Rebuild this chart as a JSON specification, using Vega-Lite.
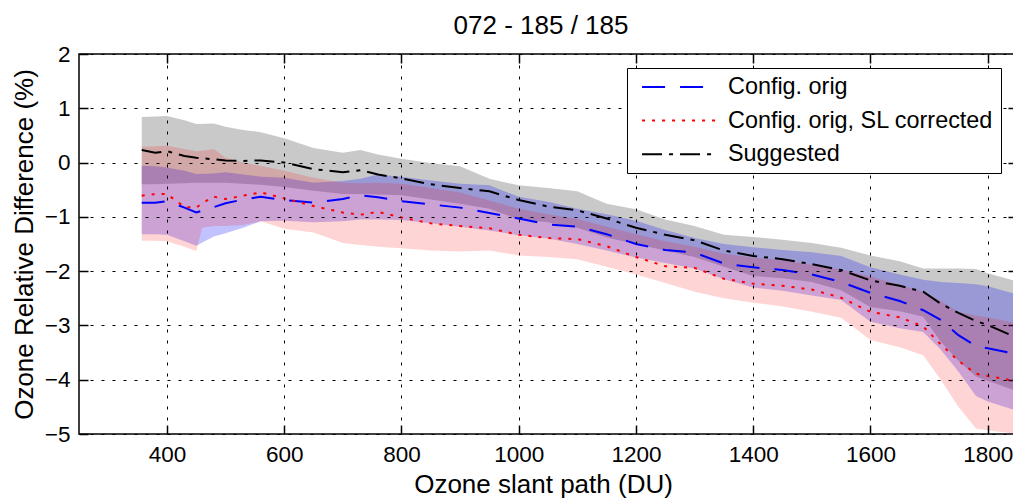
{
  "$schema": "https://vega.github.io/schema/vega-lite/v6.json",
  "autosize": "none",
  "padding": {"left": 79, "top": 54, "right": 0, "bottom": 69},
  "width": 938,
  "height": 380,
  "config": {
    "font": "Liberation Sans",
    "view": {"stroke": "black", "strokeWidth": 1.5},
    "axis": {"labelColor": "black", "titleColor": "black", "titleFontWeight": "normal", "labelFont": "Liberation Sans", "titleFont": "Liberation Sans"}
  },
  "title": {"text": "072 - 185 / 185", "fontSize": 26, "fontWeight": "normal", "color": "black", "anchor": "middle", "frame": "group", "baseline": "alphabetic", "offset": 4, "dy": 21, "dx": -7},
  "data": {"values": [
    {"s":"Suggested","x":357,"m":0.23,"lo":-0.40,"hi":0.84},
    {"s":"Suggested","x":380,"m":0.18,"lo":-0.40,"hi":0.85},
    {"s":"Suggested","x":400,"m":0.21,"lo":-0.39,"hi":0.86},
    {"s":"Suggested","x":430,"m":0.12,"lo":-0.38,"hi":0.78},
    {"s":"Suggested","x":450,"m":0.09,"lo":-0.37,"hi":0.71},
    {"s":"Suggested","x":480,"m":0.06,"lo":-0.37,"hi":0.72},
    {"s":"Suggested","x":500,"m":0.04,"lo":-0.37,"hi":0.66},
    {"s":"Suggested","x":530,"m":0.03,"lo":-0.39,"hi":0.60},
    {"s":"Suggested","x":560,"m":0.04,"lo":-0.41,"hi":0.56},
    {"s":"Suggested","x":600,"m":0.00,"lo":-0.45,"hi":0.45},
    {"s":"Suggested","x":650,"m":-0.12,"lo":-0.52,"hi":0.27},
    {"s":"Suggested","x":700,"m":-0.18,"lo":-0.58,"hi":0.18},
    {"s":"Suggested","x":730,"m":-0.14,"lo":-0.58,"hi":0.23},
    {"s":"Suggested","x":760,"m":-0.22,"lo":-0.59,"hi":0.15},
    {"s":"Suggested","x":800,"m":-0.29,"lo":-0.60,"hi":0.07},
    {"s":"Suggested","x":850,"m":-0.40,"lo":-0.68,"hi":-0.01},
    {"s":"Suggested","x":900,"m":-0.47,"lo":-0.76,"hi":-0.07},
    {"s":"Suggested","x":950,"m":-0.53,"lo":-0.85,"hi":-0.30},
    {"s":"Suggested","x":1000,"m":-0.69,"lo":-1.05,"hi":-0.42},
    {"s":"Suggested","x":1050,"m":-0.81,"lo":-1.10,"hi":-0.47},
    {"s":"Suggested","x":1100,"m":-0.88,"lo":-1.20,"hi":-0.53},
    {"s":"Suggested","x":1150,"m":-1.03,"lo":-1.38,"hi":-0.76},
    {"s":"Suggested","x":1200,"m":-1.20,"lo":-1.50,"hi":-0.86},
    {"s":"Suggested","x":1250,"m":-1.33,"lo":-1.62,"hi":-1.05},
    {"s":"Suggested","x":1300,"m":-1.43,"lo":-1.74,"hi":-1.17},
    {"s":"Suggested","x":1350,"m":-1.62,"lo":-1.92,"hi":-1.33},
    {"s":"Suggested","x":1400,"m":-1.72,"lo":-2.09,"hi":-1.37},
    {"s":"Suggested","x":1450,"m":-1.78,"lo":-2.13,"hi":-1.42},
    {"s":"Suggested","x":1500,"m":-1.87,"lo":-2.20,"hi":-1.48},
    {"s":"Suggested","x":1550,"m":-1.98,"lo":-2.35,"hi":-1.57},
    {"s":"Suggested","x":1600,"m":-2.17,"lo":-2.66,"hi":-1.71},
    {"s":"Suggested","x":1650,"m":-2.27,"lo":-2.74,"hi":-1.82},
    {"s":"Suggested","x":1690,"m":-2.38,"lo":-2.84,"hi":-1.95},
    {"s":"Suggested","x":1720,"m":-2.60,"lo":-3.30,"hi":-1.95},
    {"s":"Suggested","x":1750,"m":-2.77,"lo":-3.65,"hi":-1.95},
    {"s":"Suggested","x":1780,"m":-2.92,"lo":-3.94,"hi":-1.96},
    {"s":"Suggested","x":1800,"m":-2.99,"lo":-4.02,"hi":-2.04},
    {"s":"Suggested","x":1850,"m":-3.23,"lo":-4.21,"hi":-2.19},
    {"s":"Config. orig","x":357,"m":-0.74,"lo":-1.32,"hi":-0.06},
    {"s":"Config. orig","x":380,"m":-0.74,"lo":-1.32,"hi":-0.07},
    {"s":"Config. orig","x":400,"m":-0.71,"lo":-1.33,"hi":-0.09},
    {"s":"Config. orig","x":430,"m":-0.83,"lo":-1.45,"hi":-0.15},
    {"s":"Config. orig","x":450,"m":-0.92,"lo":-1.53,"hi":-0.21},
    {"s":"Config. orig","x":480,"m":-0.82,"lo":-1.36,"hi":-0.20},
    {"s":"Config. orig","x":500,"m":-0.75,"lo":-1.30,"hi":-0.18},
    {"s":"Config. orig","x":530,"m":-0.68,"lo":-1.20,"hi":-0.22},
    {"s":"Config. orig","x":560,"m":-0.63,"lo":-1.08,"hi":-0.26},
    {"s":"Config. orig","x":600,"m":-0.69,"lo":-1.07,"hi":-0.28},
    {"s":"Config. orig","x":650,"m":-0.74,"lo":-1.10,"hi":-0.37},
    {"s":"Config. orig","x":700,"m":-0.67,"lo":-1.08,"hi":-0.34},
    {"s":"Config. orig","x":730,"m":-0.60,"lo":-1.05,"hi":-0.30},
    {"s":"Config. orig","x":760,"m":-0.64,"lo":-1.05,"hi":-0.22},
    {"s":"Config. orig","x":800,"m":-0.71,"lo":-1.06,"hi":-0.26},
    {"s":"Config. orig","x":850,"m":-0.77,"lo":-1.12,"hi":-0.33},
    {"s":"Config. orig","x":900,"m":-0.83,"lo":-1.18,"hi":-0.39},
    {"s":"Config. orig","x":950,"m":-0.93,"lo":-1.25,"hi":-0.42},
    {"s":"Config. orig","x":1000,"m":-1.03,"lo":-1.34,"hi":-0.63},
    {"s":"Config. orig","x":1050,"m":-1.14,"lo":-1.40,"hi":-0.72},
    {"s":"Config. orig","x":1100,"m":-1.18,"lo":-1.50,"hi":-0.85},
    {"s":"Config. orig","x":1150,"m":-1.32,"lo":-1.62,"hi":-0.95},
    {"s":"Config. orig","x":1200,"m":-1.50,"lo":-1.75,"hi":-1.07},
    {"s":"Config. orig","x":1250,"m":-1.61,"lo":-1.85,"hi":-1.24},
    {"s":"Config. orig","x":1300,"m":-1.66,"lo":-1.95,"hi":-1.39},
    {"s":"Config. orig","x":1350,"m":-1.86,"lo":-2.15,"hi":-1.50},
    {"s":"Config. orig","x":1400,"m":-1.93,"lo":-2.30,"hi":-1.56},
    {"s":"Config. orig","x":1450,"m":-1.98,"lo":-2.36,"hi":-1.61},
    {"s":"Config. orig","x":1500,"m":-2.06,"lo":-2.45,"hi":-1.65},
    {"s":"Config. orig","x":1550,"m":-2.20,"lo":-2.53,"hi":-1.72},
    {"s":"Config. orig","x":1600,"m":-2.40,"lo":-2.93,"hi":-1.93},
    {"s":"Config. orig","x":1650,"m":-2.55,"lo":-3.05,"hi":-2.06},
    {"s":"Config. orig","x":1690,"m":-2.72,"lo":-3.12,"hi":-2.16},
    {"s":"Config. orig","x":1720,"m":-2.90,"lo":-3.45,"hi":-2.20},
    {"s":"Config. orig","x":1750,"m":-3.18,"lo":-3.85,"hi":-2.22},
    {"s":"Config. orig","x":1780,"m":-3.38,"lo":-4.30,"hi":-2.24},
    {"s":"Config. orig","x":1800,"m":-3.42,"lo":-4.40,"hi":-2.28},
    {"s":"Config. orig","x":1850,"m":-3.53,"lo":-4.57,"hi":-2.43},
    {"s":"Config. orig, SL corrected","x":357,"m":-0.61,"lo":-1.44,"hi":0.29},
    {"s":"Config. orig, SL corrected","x":380,"m":-0.58,"lo":-1.44,"hi":0.30},
    {"s":"Config. orig, SL corrected","x":400,"m":-0.58,"lo":-1.45,"hi":0.31},
    {"s":"Config. orig, SL corrected","x":430,"m":-0.82,"lo":-1.55,"hi":0.25},
    {"s":"Config. orig, SL corrected","x":450,"m":-0.83,"lo":-1.63,"hi":0.21},
    {"s":"Config. orig, SL corrected","x":460,"m":-0.75,"lo":-1.20,"hi":0.22},
    {"s":"Config. orig, SL corrected","x":480,"m":-0.63,"lo":-1.17,"hi":0.25},
    {"s":"Config. orig, SL corrected","x":500,"m":-0.67,"lo":-1.17,"hi":0.09},
    {"s":"Config. orig, SL corrected","x":530,"m":-0.61,"lo":-1.15,"hi":0.00},
    {"s":"Config. orig, SL corrected","x":560,"m":-0.55,"lo":-1.08,"hi":-0.06},
    {"s":"Config. orig, SL corrected","x":600,"m":-0.66,"lo":-1.22,"hi":-0.15},
    {"s":"Config. orig, SL corrected","x":650,"m":-0.80,"lo":-1.29,"hi":-0.28},
    {"s":"Config. orig, SL corrected","x":700,"m":-0.92,"lo":-1.48,"hi":-0.37},
    {"s":"Config. orig, SL corrected","x":730,"m":-0.96,"lo":-1.52,"hi":-0.38},
    {"s":"Config. orig, SL corrected","x":760,"m":-0.91,"lo":-1.55,"hi":-0.37},
    {"s":"Config. orig, SL corrected","x":800,"m":-1.01,"lo":-1.58,"hi":-0.39},
    {"s":"Config. orig, SL corrected","x":850,"m":-1.12,"lo":-1.62,"hi":-0.47},
    {"s":"Config. orig, SL corrected","x":900,"m":-1.17,"lo":-1.64,"hi":-0.55},
    {"s":"Config. orig, SL corrected","x":950,"m":-1.21,"lo":-1.62,"hi":-0.70},
    {"s":"Config. orig, SL corrected","x":1000,"m":-1.33,"lo":-1.71,"hi":-0.85},
    {"s":"Config. orig, SL corrected","x":1050,"m":-1.39,"lo":-1.74,"hi":-0.95},
    {"s":"Config. orig, SL corrected","x":1100,"m":-1.41,"lo":-1.78,"hi":-1.04},
    {"s":"Config. orig, SL corrected","x":1150,"m":-1.54,"lo":-1.92,"hi":-1.18},
    {"s":"Config. orig, SL corrected","x":1200,"m":-1.74,"lo":-2.06,"hi":-1.32},
    {"s":"Config. orig, SL corrected","x":1250,"m":-1.91,"lo":-2.22,"hi":-1.45},
    {"s":"Config. orig, SL corrected","x":1300,"m":-1.94,"lo":-2.38,"hi":-1.55},
    {"s":"Config. orig, SL corrected","x":1350,"m":-2.14,"lo":-2.50,"hi":-1.68},
    {"s":"Config. orig, SL corrected","x":1400,"m":-2.23,"lo":-2.58,"hi":-1.75},
    {"s":"Config. orig, SL corrected","x":1450,"m":-2.27,"lo":-2.65,"hi":-1.80},
    {"s":"Config. orig, SL corrected","x":1500,"m":-2.34,"lo":-2.75,"hi":-1.88},
    {"s":"Config. orig, SL corrected","x":1550,"m":-2.49,"lo":-2.86,"hi":-1.97},
    {"s":"Config. orig, SL corrected","x":1600,"m":-2.75,"lo":-3.27,"hi":-2.10},
    {"s":"Config. orig, SL corrected","x":1650,"m":-2.85,"lo":-3.40,"hi":-2.25},
    {"s":"Config. orig, SL corrected","x":1690,"m":-3.02,"lo":-3.55,"hi":-2.38},
    {"s":"Config. orig, SL corrected","x":1720,"m":-3.35,"lo":-4.00,"hi":-2.55},
    {"s":"Config. orig, SL corrected","x":1750,"m":-3.65,"lo":-4.50,"hi":-2.75},
    {"s":"Config. orig, SL corrected","x":1780,"m":-3.89,"lo":-4.90,"hi":-2.82},
    {"s":"Config. orig, SL corrected","x":1800,"m":-3.93,"lo":-4.93,"hi":-2.85},
    {"s":"Config. orig, SL corrected","x":1850,"m":-4.03,"lo":-5.00,"hi":-2.96}
  ]},
  "resolve": {"axis": {"x": "independent", "y": "independent"}},
  "layer": [
    {
      "transform": [{"filter": "datum.s === 'Suggested'"}],
      "mark": {"type": "area", "color": "#000000", "fillOpacity": 0.21, "clip": true},
      "encoding": {
        "x": {"field": "x", "type": "quantitative", "scale": {"domain": [250, 1850], "nice": false, "zero": false},
              "axis": {"orient": "top", "values": [400, 600, 800, 1000, 1200, 1400, 1600, 1800], "labels": false, "grid": false, "domain": false, "tickSize": -9, "tickColor": "black", "tickWidth": 1.5, "title": null}},
        "y": {"field": "lo", "type": "quantitative", "scale": {"domain": [-5, 2], "nice": false, "zero": false},
              "axis": {"orient": "right", "values": [-4, -3, -2, -1, 0, 1], "labels": false, "grid": false, "domain": false, "tickSize": -9, "tickColor": "black", "tickWidth": 1.5, "title": null}},
        "y2": {"field": "hi"}
      }
    },
    {
      "transform": [{"filter": "datum.s === 'Config. orig'"}],
      "mark": {"type": "area", "color": "#0000ff", "fillOpacity": 0.24, "clip": true},
      "encoding": {
        "x": {"field": "x", "type": "quantitative", "axis": null},
        "y": {"field": "lo", "type": "quantitative", "axis": null},
        "y2": {"field": "hi"}
      }
    },
    {
      "transform": [{"filter": "datum.s === 'Config. orig, SL corrected'"}],
      "mark": {"type": "area", "color": "#ff0000", "fillOpacity": 0.17, "clip": true},
      "encoding": {
        "x": {"field": "x", "type": "quantitative", "axis": null},
        "y": {"field": "lo", "type": "quantitative", "axis": null},
        "y2": {"field": "hi"}
      }
    },
    {
      "mark": {"type": "line", "strokeWidth": 2, "clip": true},
      "encoding": {
        "x": {"field": "x", "type": "quantitative",
              "axis": {"orient": "bottom", "values": [400, 600, 800, 1000, 1200, 1400, 1600, 1800], "format": "d", "grid": true, "gridColor": "black", "gridOpacity": 1, "gridDash": [3, 8], "gridWidth": 1, "domain": false, "tickSize": -9, "tickColor": "black", "tickWidth": 1.5, "labelFontSize": 22.5, "labelPadding": 18, "title": "Ozone slant path (DU)", "titleFontSize": 26, "titleX": 464, "titleY": 58, "titleBaseline": "alphabetic", "titleAnchor": "middle", "titleAlign": "center", "zindex": 1}},
        "y": {"field": "m", "type": "quantitative",
              "axis": {"orient": "left", "values": [-5, -4, -3, -2, -1, 0, 1, 2], "format": "d", "grid": true, "gridColor": "black", "gridOpacity": 1, "gridDash": [3, 8], "gridWidth": 1, "domain": false, "tickSize": -9, "tickColor": "black", "tickWidth": 1.5, "labelFontSize": 22.5, "labelPadding": 18, "title": "Ozone Relative Difference (%)", "titleFontSize": 26, "titleX": -47, "titleY": 190, "titleAngle": -90, "titleBaseline": "alphabetic", "titleAlign": "center", "zindex": 1}},
        "color": {"field": "s", "type": "nominal",
                  "scale": {"domain": ["Config. orig", "Config. orig, SL corrected", "Suggested"], "range": ["#0000ff", "#ff0000", "#000000"]},
                  "legend": {"title": null, "orient": "none", "legendX": 548, "legendY": 14, "symbolType": "M-3.45,0H3.45", "symbolSize": 484, "symbolStrokeWidth": 2, "symbolOffset": 34, "labelFontSize": 23.4, "labelLimit": 500, "labelColor": "black", "labelFont": "Liberation Sans", "strokeColor": "black", "fillColor": "white", "padding": 7, "rowPadding": 9.6, "labelOffset": 36, "zindex": 2}},
        "strokeDash": {"field": "s", "type": "nominal",
                  "scale": {"domain": ["Config. orig", "Config. orig, SL corrected", "Suggested"], "range": [[23, 15], [3, 7], [20, 7, 4, 7]]},
                  "legend": {"title": null, "orient": "none", "legendX": 548, "legendY": 14, "symbolType": "M-3.45,0H3.45", "symbolSize": 484, "symbolStrokeWidth": 2, "symbolOffset": 34, "labelFontSize": 23.4, "labelLimit": 500, "labelColor": "black", "labelFont": "Liberation Sans", "strokeColor": "black", "fillColor": "white", "padding": 7, "rowPadding": 9.6, "labelOffset": 36, "zindex": 2}}
      }
    }
  ]
}
